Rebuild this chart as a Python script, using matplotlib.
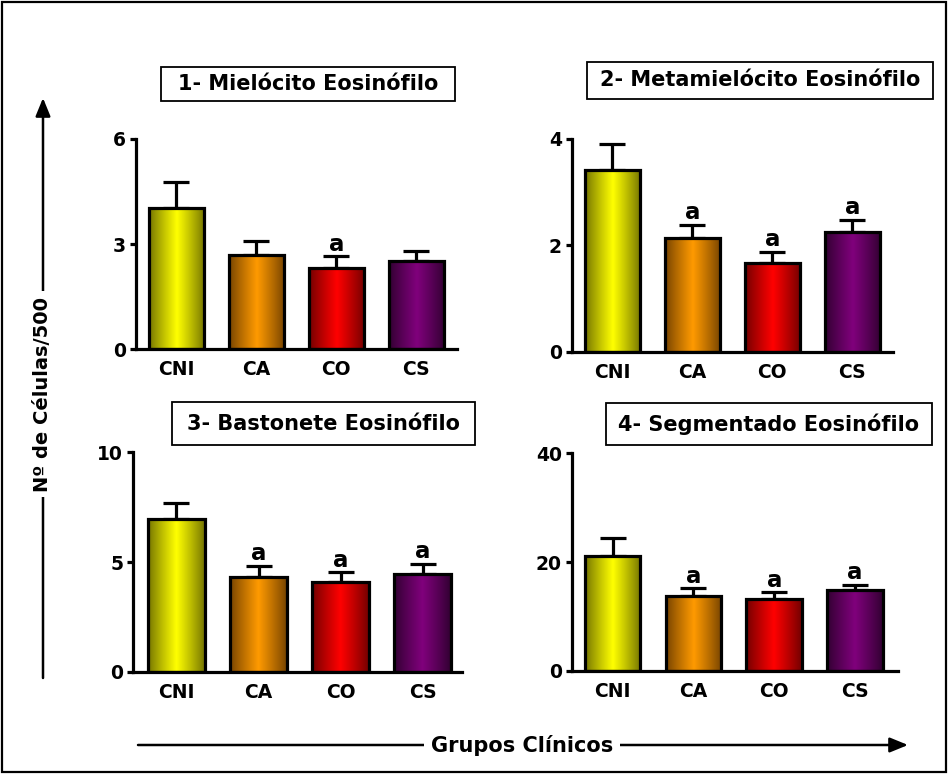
import numpy as np
import matplotlib
matplotlib.use("Agg")
import matplotlib.pyplot as plt
from matplotlib.patches import Rectangle, FancyArrowPatch
from matplotlib.colors import to_rgb

plt.rcParams['font.family'] = ['DejaVu Sans']
plt.rcParams['font.weight'] = 'bold'

# Groups and data
groups = ["CNI", "CA", "CO", "CS"]

titles = ["1- Mielócito Eosinófilo", "2- Metamielócito Eosinófilo",
          "3- Bastonete Eosinófilo", "4- Segmentado Eosinófilo"]

mielocito_mean = [4.03, 2.70, 2.31, 2.52]
mielocito_sem = [0.73, 0.40, 0.35, 0.29]
mielocito_sig = ["", "", "a", ""]

metamielocito_mean = [3.42, 2.14, 1.67, 2.26]
metamielocito_sem = [0.48, 0.25, 0.21, 0.22]
metamielocito_sig = ["", "a", "a", "a"]

bastonete_mean = [6.96, 4.30, 4.10, 4.44]
bastonete_sem = [0.75, 0.53, 0.43, 0.47]
bastonete_sig = ["", "a", "a", "a"]

segmentado_mean = [21.2, 13.8, 13.2, 14.8]
segmentado_sem = [3.2, 1.4, 1.3, 1.0]
segmentado_sig = ["", "a", "a", "a"]

y_max = [6, 4, 10, 40]
y_ticks = [[0, 3, 6], [0, 2, 4], [0, 5, 10], [0, 20, 40]]

# gradient (edge, centre) colours for each group
bar_edge_cols = ["#727200", "#744200", "#700000", "#300030"]
bar_mid_cols = ["#ffff00", "#ff9a00", "#ff0000", "#80007c"]

W, H = 948, 774
fig = plt.figure(figsize=(W / 100, H / 100), dpi=100)

def fx(px):
    return px / W

def fy(py):
    return 1 - py / H

# axes rectangles in pixel units: (left, right, y of zero line, y of top)
axes_px = [(135.7, 457, 349.3, 139.0),
           (571.7, 893, 351.7, 139.0),
           (133.0, 462, 671.7, 452.3),
           (571.7, 898, 671.0, 453.3)]
xlims = [(-0.51, 3.51), (-0.51, 3.51), (-0.53, 3.48), (-0.505, 3.53)]

panels = [
    (mielocito_mean, mielocito_sem, mielocito_sig),
    (metamielocito_mean, metamielocito_sem, metamielocito_sig),
    (bastonete_mean, bastonete_sem, bastonete_sig),
    (segmentado_mean, segmentado_sem, segmentado_sig),
]

LW = 2.3
bar_w = 0.69
x = np.arange(len(groups))

def gradient_image(c_edge, c_mid, n=200):
    t = np.linspace(0, 1, n)
    prof = 1 - np.abs(2 * t - 1)
    prof = np.clip(prof, 0, 1) ** 0.9
    e = np.array(to_rgb(c_edge))
    m = np.array(to_rgb(c_mid))
    cols = e[None, :] + (m - e)[None, :] * prof[:, None]
    return cols[None, :, :]

for i, (means, sems, sigs) in enumerate(panels):
    l, r, y0, y1 = axes_px[i]
    ax = fig.add_axes([fx(l), fy(y0), fx(r) - fx(l), fy(y1) - fy(y0)])
    bars = ax.bar(x, means, width=bar_w, facecolor='none', edgecolor='black',
                  linewidth=LW, zorder=3)
    for j, b in enumerate(bars):
        bx, by = b.get_x(), b.get_y()
        bw, bh = b.get_width(), b.get_height()
        im = ax.imshow(gradient_image(bar_edge_cols[j], bar_mid_cols[j]),
                       extent=[bx, bx + bw, by, by + bh], aspect='auto',
                       zorder=2, interpolation='bilinear')
        im.set_clip_path(b)
    ax.set_xlim(*xlims[i])
    ax.set_ylim(0, y_max[i])
    ax.errorbar(x, means, yerr=[np.zeros(len(sems)), sems], fmt='none',
                ecolor='black', elinewidth=LW, capsize=9.3, capthick=LW,
                zorder=1, clip_on=False)
    for j, s in enumerate(sigs):
        if s:
            ax.annotate(s, (x[j], means[j] + sems[j]), xytext=(0, 4),
                        textcoords='offset points', ha='center',
                        va='baseline', fontsize=16.5, fontweight='bold')
    for side in ['top', 'right']:
        ax.spines[side].set_visible(False)
    for side in ['left', 'bottom']:
        ax.spines[side].set_linewidth(LW)
    ax.set_xticks(x)
    ax.set_xticklabels(groups, fontsize=13.5, fontweight='bold')
    ax.tick_params(axis='x', length=0, pad=8)
    ax.set_yticks(y_ticks[i])
    ax.set_yticklabels([str(v) for v in y_ticks[i]], fontsize=13.5,
                       fontweight='bold')
    ax.tick_params(axis='y', length=4, width=LW, pad=3)
    ax.patch.set_alpha(0)

# panel title boxes (pixel boxes: left, top, right, bottom)
title_boxes = [(161, 67, 455, 101), (587, 62, 933, 99),
               (172, 402, 475, 445), (606, 403, 932, 445)]
for t, (bl, bt, br, bb) in zip(titles, title_boxes):
    fig.patches.append(Rectangle((fx(bl), fy(bb)), fx(br) - fx(bl),
                                 fy(bt) - fy(bb), transform=fig.transFigure,
                                 facecolor='white', edgecolor='black',
                                 linewidth=1.3))
    fig.text(fx((bl + br) / 2), fy((bt + bb) / 2), t, ha='center',
             va='center', fontsize=15, fontweight='bold')

# axis arrows with labels
arrow_style = '-|>,head_length=11,head_width=4.5'
fig.patches.append(FancyArrowPatch((fx(43), fy(678)), (fx(43), fy(98)),
                                   transform=fig.transFigure,
                                   arrowstyle=arrow_style, shrinkA=0,
                                   shrinkB=0, mutation_scale=1,
                                   color='black', lw=1.8))
fig.text(fx(43), fy(394), "Nº de Células/500", rotation=90, ha='center',
         va='center', fontsize=14, fontweight='bold',
         bbox=dict(facecolor='white', edgecolor='none', pad=4))

fig.patches.append(FancyArrowPatch((fx(138), fy(745)), (fx(908), fy(745)),
                                   transform=fig.transFigure,
                                   arrowstyle=arrow_style, shrinkA=0,
                                   shrinkB=0, mutation_scale=1,
                                   color='black', lw=1.8))
fig.text(fx(522), fy(745), "Grupos Clínicos", ha='center', va='center',
         fontsize=15, fontweight='bold',
         bbox=dict(facecolor='white', edgecolor='none', pad=5))

# outer frame
fig.patches.append(Rectangle((fx(2), fy(772)), fx(944), fy(2) - fy(772),
                             transform=fig.transFigure, facecolor='none',
                             edgecolor='black', linewidth=1.6))

fig.savefig("out.png", dpi=100)
